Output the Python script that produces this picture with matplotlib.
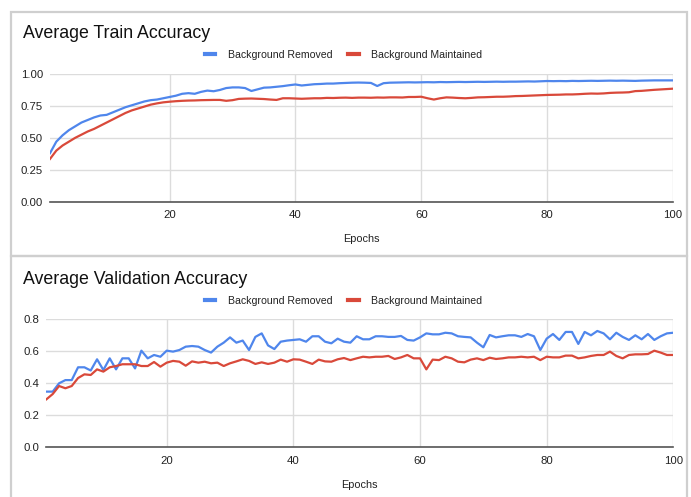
import numpy as np
import matplotlib
matplotlib.use("Agg")
import matplotlib.pyplot as plt
from matplotlib.patches import Rectangle

plt.rcParams['font.family'] = ['Liberation Sans', 'DejaVu Sans']

epochs = np.arange(1, 101)

train_removed = [
    0.38, 0.47, 0.52, 0.56, 0.59, 0.62, 0.64, 0.66, 0.675, 0.68,
    0.70, 0.72, 0.74, 0.755, 0.77, 0.785, 0.795, 0.80, 0.81, 0.82,
    0.83, 0.845, 0.85, 0.845, 0.86, 0.87, 0.865, 0.875, 0.89, 0.895,
    0.895, 0.89, 0.867, 0.88, 0.893, 0.895, 0.90, 0.905, 0.912, 0.918,
    0.91, 0.915, 0.92, 0.922, 0.925, 0.925, 0.928, 0.93, 0.932, 0.933,
    0.932, 0.93, 0.906, 0.928, 0.932, 0.933, 0.934, 0.935, 0.934, 0.935,
    0.936, 0.935, 0.937, 0.936, 0.937, 0.938, 0.937, 0.938, 0.939, 0.938,
    0.939, 0.94, 0.939, 0.94, 0.94, 0.941, 0.942, 0.941, 0.943, 0.945,
    0.944, 0.945, 0.944, 0.946, 0.945, 0.946, 0.947, 0.946, 0.947, 0.948,
    0.947, 0.948, 0.947, 0.946, 0.948, 0.949, 0.95, 0.95, 0.95, 0.95,
]

train_maintained = [
    0.335, 0.40, 0.44, 0.47, 0.50, 0.525, 0.55, 0.57, 0.595, 0.62,
    0.645, 0.67, 0.695, 0.715, 0.73, 0.745, 0.76, 0.77, 0.778, 0.783,
    0.787, 0.79, 0.792, 0.793, 0.795, 0.796, 0.797, 0.797, 0.79, 0.795,
    0.805, 0.807, 0.808, 0.806, 0.804, 0.80, 0.797, 0.81, 0.81, 0.808,
    0.806, 0.808, 0.81, 0.81, 0.813, 0.812, 0.814, 0.815, 0.813, 0.815,
    0.815, 0.814, 0.816, 0.815, 0.817, 0.817, 0.816, 0.82, 0.82, 0.822,
    0.81, 0.80, 0.81, 0.817, 0.815, 0.812, 0.81, 0.813, 0.817, 0.818,
    0.82, 0.822, 0.822, 0.824, 0.827, 0.828, 0.83, 0.832, 0.834, 0.836,
    0.837, 0.838, 0.84, 0.84, 0.842, 0.845, 0.847, 0.846, 0.848, 0.852,
    0.854, 0.855, 0.857, 0.866, 0.868, 0.872, 0.876, 0.879, 0.882, 0.885,
]

val_removed = [
    0.348, 0.348, 0.40, 0.42, 0.42, 0.50, 0.50, 0.48, 0.55, 0.483,
    0.556, 0.487, 0.556, 0.556, 0.493, 0.604, 0.556, 0.577, 0.566, 0.604,
    0.598, 0.608, 0.629, 0.633, 0.629, 0.608, 0.592, 0.629, 0.654, 0.687,
    0.654, 0.667, 0.608, 0.69, 0.712, 0.637, 0.614, 0.66, 0.667, 0.671,
    0.675, 0.66, 0.694, 0.694, 0.66, 0.65, 0.679, 0.66, 0.654, 0.694,
    0.675, 0.675, 0.694, 0.694, 0.69, 0.69, 0.696, 0.671, 0.667, 0.687,
    0.712, 0.706, 0.706, 0.716, 0.712, 0.694, 0.69, 0.687, 0.654, 0.625,
    0.702, 0.687, 0.694, 0.70, 0.70, 0.69, 0.708, 0.694, 0.608, 0.679,
    0.708, 0.671, 0.721, 0.721, 0.646, 0.721, 0.70, 0.727, 0.712, 0.675,
    0.716, 0.69, 0.671, 0.70, 0.675, 0.708, 0.671, 0.694, 0.712, 0.716,
]

val_maintained = [
    0.30, 0.333, 0.383, 0.369, 0.383, 0.433, 0.456, 0.452, 0.487, 0.473,
    0.50, 0.508, 0.519, 0.519, 0.519, 0.508, 0.508, 0.533, 0.504, 0.529,
    0.54, 0.535, 0.51, 0.537, 0.529, 0.535, 0.525, 0.529, 0.508, 0.525,
    0.537, 0.55, 0.54, 0.521, 0.531, 0.521, 0.529, 0.548, 0.535, 0.55,
    0.548, 0.535, 0.521, 0.548, 0.537, 0.535, 0.55, 0.558, 0.545, 0.556,
    0.566, 0.562, 0.566, 0.566, 0.571, 0.552, 0.562, 0.577, 0.556, 0.556,
    0.487, 0.548, 0.545, 0.566, 0.556, 0.535, 0.531, 0.548, 0.556, 0.545,
    0.56, 0.552, 0.556, 0.562, 0.562, 0.566, 0.562, 0.566, 0.545, 0.566,
    0.562, 0.562, 0.573, 0.573, 0.556, 0.562, 0.571, 0.577, 0.577, 0.598,
    0.571, 0.556, 0.577, 0.581, 0.581, 0.583, 0.604, 0.592, 0.577, 0.577,
]

series_names = ["Background Removed", "Background Maintained"]
colors = ["#4f86ec", "#d9493a"]

W, H = 691, 497
fig = plt.figure(figsize=(W / 100, H / 100), dpi=100)
fig.patch.set_facecolor("white")


def fx(px):
    return px / W


def fy(py):
    return 1 - py / H


# panel frames
for top, bottom in [(12, 256), (256, 520)]:
    fig.add_artist(Rectangle((fx(11), fy(bottom)), fx(687) - fx(11),
                             fy(top) - fy(bottom), transform=fig.transFigure,
                             fill=False, edgecolor="#cfcfcf", linewidth=1.6,
                             clip_on=False))

panels = [
    dict(title="Average Train Accuracy", data=(train_removed, train_maintained),
         rect=(50, 673, 74, 201.7), ylim=(0, 1.0), yticks=[0, 0.25, 0.5, 0.75, 1.0],
         fmt="{:.2f}", title_y=33, legend_y=55, xlabel_y=239.5),
    dict(title="Average Validation Accuracy", data=(val_removed, val_maintained),
         rect=(46.4, 673.3, 319.3, 447.3), ylim=(0, 0.8), yticks=[0, 0.2, 0.4, 0.6, 0.8],
         fmt="{:.1f}", title_y=279, legend_y=301, xlabel_y=485),
]

for p in panels:
    l, r, t, b = p["rect"]
    ax = fig.add_axes([fx(l), fy(b), fx(r) - fx(l), fy(t) - fy(b)])
    for vals, name, c in zip(p["data"], series_names, colors):
        ax.plot(epochs, vals, color=c, linewidth=1.6, label=name,
                solid_joinstyle="round", zorder=3)
    ax.set_xlim(1, 100)
    ax.set_ylim(*p["ylim"])
    ax.set_xticks([20, 40, 60, 80, 100])
    ax.set_yticks(p["yticks"])
    ax.set_yticklabels([p["fmt"].format(v) for v in p["yticks"]])
    ax.grid(True, color="#dcdcdc", linewidth=1.0, zorder=0)
    ax.set_axisbelow(True)
    for s in ["top", "right", "left"]:
        ax.spines[s].set_visible(False)
    ax.spines["bottom"].set_color("#555555")
    ax.spines["bottom"].set_linewidth(1.2)
    ax.spines["bottom"].set_zorder(4)
    ax.tick_params(length=0, labelsize=8.2, colors="#222222", pad=5)
    ax.tick_params(axis="x", pad=6)

    fig.text(fx(23), fy(p["title_y"]), p["title"], fontsize=12.8,
             color="#111111", va="center", ha="left")
    fig.text(fx((l + r) / 2), fy(p["xlabel_y"]), "Epochs", fontsize=7.8,
             color="#222222", va="center", ha="center")

    leg = ax.legend(loc="center", ncol=2, frameon=False, fontsize=7.6,
                    bbox_to_anchor=(fx(343.5), fy(p["legend_y"])),
                    bbox_transform=fig.transFigure, handlelength=1.0,
                    handletextpad=1.2, columnspacing=1.5, borderpad=0)
    for ln in leg.get_lines():
        ln.set_linewidth(3.0)
    for txt in leg.get_texts():
        txt.set_color("#222222")

fig.savefig("out.png", dpi=100, facecolor="white")
